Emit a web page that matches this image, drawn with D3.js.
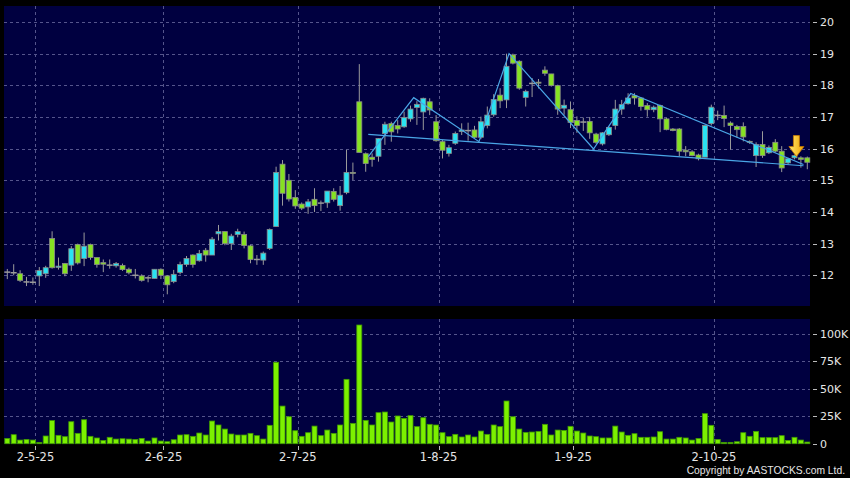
<!DOCTYPE html>
<html><head><meta charset="utf-8">
<script src="https://cdn.jsdelivr.net/npm/d3@7"></script>
<style>html,body{margin:0;padding:0;background:#000;}svg{display:block;}</style>
</head><body><svg id="c" width="850" height="478"></svg>
<script>
// ---- data ----
const opens  = [12.10,12.08,12.05,11.79,11.78,11.98,12.05,13.16,12.25,12.37,12.32,12.97,12.53,12.97,12.56,12.40,12.32,12.30,12.31,12.19,
 12.00,11.98,11.92,11.90,12.19,11.98,11.80,12.09,12.34,12.64,12.46,12.79,12.64,13.31,13.38,13.00,13.29,13.29,12.93,12.50,
 12.48,12.85,13.54,15.51,15.00,14.46,14.25,14.16,14.40,14.28,14.29,14.65,14.20,14.61,15.25,17.48,15.84,15.73,15.76,16.48,
 16.79,16.73,16.69,16.94,17.30,17.16,17.48,16.85,16.22,15.85,16.17,16.54,16.57,16.59,16.36,16.73,17.07,17.69,17.54,18.96,
 18.76,17.62,18.06,18.10,18.48,18.36,17.99,17.28,17.23,16.89,16.84,16.86,16.46,16.15,16.44,16.73,17.25,17.42,17.67,17.60,
 17.36,17.23,17.36,16.94,16.62,16.62,15.95,15.90,15.80,15.73,16.79,17.05,17.05,16.81,16.70,16.70,16.23,15.78,16.13,15.87,
 16.20,15.92,15.55,15.71,15.71,15.71];
const highs  = [12.20,12.35,12.16,11.95,11.93,12.26,12.30,13.39,12.56,12.39,12.92,13.00,13.35,13.00,12.56,12.50,12.50,12.42,12.37,12.24,
 12.20,12.03,11.98,12.19,12.22,12.01,12.17,12.43,12.61,12.66,12.80,12.86,13.21,13.59,13.38,13.31,13.47,13.38,12.96,12.64,
 12.75,13.48,15.43,15.64,15.20,14.69,14.30,14.41,14.75,14.36,14.66,14.75,14.82,15.96,15.56,18.67,15.88,15.85,16.33,16.85,
 16.85,16.90,17.17,17.36,17.50,17.61,17.59,17.06,16.27,16.12,16.54,16.80,16.82,16.72,17.01,17.33,17.72,17.91,19.00,19.00,
 18.79,17.86,18.23,18.20,18.60,18.36,18.02,17.55,17.49,17.02,16.98,17.00,16.50,16.52,16.70,17.54,17.54,17.75,17.75,17.63,
 17.44,17.36,17.39,16.97,16.65,16.65,16.08,15.95,15.84,16.73,17.39,17.20,17.36,16.86,16.75,16.83,16.26,16.20,16.55,16.10,
 16.30,16.08,15.71,15.81,15.76,15.75];
const lows   = [11.88,12.00,11.79,11.66,11.70,11.66,11.92,12.21,12.18,11.97,12.14,12.34,12.29,12.49,12.24,12.10,12.21,12.24,12.14,12.03,
 11.90,11.80,11.78,11.90,11.88,11.40,11.75,12.03,12.27,12.24,12.43,12.43,12.64,13.10,12.95,12.80,13.20,12.85,12.38,12.33,
 12.33,12.80,13.54,14.20,14.33,14.10,14.06,13.94,14.00,14.03,14.13,14.33,14.04,14.56,15.01,15.88,15.27,15.43,15.59,16.12,
 16.22,16.48,16.66,16.85,16.75,16.59,17.06,16.22,15.69,15.75,16.12,16.43,16.25,16.32,16.30,16.64,17.01,17.28,17.28,18.66,
 17.86,17.33,17.63,17.90,18.30,17.96,17.07,17.07,16.65,16.50,16.56,16.31,16.15,16.10,16.40,16.60,17.07,17.39,17.39,17.20,
 17.01,17.15,16.52,16.58,16.55,15.76,15.76,15.76,15.63,15.73,16.73,16.90,16.68,15.97,16.35,16.23,16.15,15.42,15.71,15.83,
 15.88,15.26,15.50,15.66,15.40,15.35];
const closes = [12.10,12.08,11.84,11.79,11.78,12.15,12.24,12.24,12.29,12.05,12.84,12.39,12.92,12.56,12.34,12.35,12.32,12.37,12.18,12.08,
 12.00,11.84,11.92,12.19,12.00,11.70,12.03,12.34,12.53,12.34,12.69,12.64,13.14,13.38,13.00,13.24,13.38,12.94,12.50,12.50,
 12.70,13.45,15.25,14.59,14.41,14.19,14.12,14.32,14.20,14.28,14.66,14.40,14.53,15.25,15.22,15.88,15.53,15.66,16.32,16.77,
 16.53,16.62,16.98,17.25,17.40,17.59,17.22,16.25,15.95,16.03,16.48,16.59,16.57,16.36,16.85,17.06,17.55,17.51,18.60,18.70,
 17.91,17.81,18.06,18.08,18.38,17.99,17.25,17.37,16.83,16.73,16.84,16.50,16.20,16.50,16.67,17.25,17.39,17.60,17.60,17.33,
 17.23,17.31,16.94,16.60,16.57,15.92,15.90,15.78,15.68,16.73,17.31,17.05,16.95,16.73,16.60,16.37,16.20,16.13,15.78,16.04,
 15.92,15.39,15.68,15.78,15.66,15.57];
const volumes = [4800,8200,3300,3900,3300,1200,7000,21000,7600,6400,20000,9400,21800,6700,5200,3000,5800,4200,4500,4200,
 3900,4800,2400,5200,2400,1800,3600,7900,8200,6700,9700,7900,20600,17000,13300,8800,7900,7900,9400,7300,
 4200,16700,74000,34200,24500,11800,6700,10000,16000,7300,12400,9400,17000,58500,18500,107900,21200,17000,28200,28800,
 19700,25200,23000,25500,15500,23600,17600,17000,10000,6400,8500,6100,7900,6100,11500,8500,17000,15500,38800,24500,
 13300,10300,10600,11200,17600,7900,12400,12100,15800,11500,9700,7000,6400,5200,5200,16000,10600,7600,9100,5800,
 5800,6100,10900,4200,4200,5800,5200,3300,4800,27300,16700,3900,1200,1200,1800,10000,6700,11200,5500,5500,
 5500,7300,3000,5800,3300,1500];
const tickIndex  = [4, 24, 45, 67, 88, 110];
const tickLabels = ["2-5-25","2-6-25","2-7-25","1-8-25","1-9-25","2-10-25"];
const priceTicks = [12,13,14,15,16,17,18,19,20];
const volTicks   = [0,25000,50000,75000,100000];
const volTickLabels = ["0","25K","50K","75K","100K"];
// drawn pattern lines (index, price)
const necklineIdx = [56.4, 124.4], necklinePrice = [16.45, 15.46];
const zigzagIdx   = [56.4, 63.5, 73.7, 78.4, 91.6, 97.4, 124.4];
const zigzagPrice = [15.75, 17.61, 16.22, 19.00, 15.99, 17.74, 15.50];
const arrowIdx = 123.3, arrowPrice = 15.75;

// ---- layout ----
const svg = d3.select("#c");
const P = {l:4, r:810, t:6, b:306};
const V = {l:4, r:810, t:319, b:444};
const x = d3.scaleLinear().domain([0,125]).range([7.3, 807.3]);
const y = d3.scaleLinear().domain([12,20]).range([275.3, 22]);
const yv = d3.scaleLinear().domain([0,100000]).range([443.7, 333.7]);
const gridCol = "#55558c", txtCol = "#e6e6e6";
const font = "DejaVu Sans, Verdana, sans-serif";

svg.append("rect").attr("width",850).attr("height",478).attr("fill","#000");
svg.append("rect").attr("x",P.l).attr("y",P.t).attr("width",P.r-P.l).attr("height",P.b-P.t).attr("fill","#000040");
svg.append("rect").attr("x",V.l).attr("y",V.t).attr("width",V.r-V.l).attr("height",V.b-V.t).attr("fill","#000040");

// grids
const gp = svg.append("g").attr("stroke",gridCol).attr("stroke-dasharray","3,3").attr("stroke-width",1);
priceTicks.forEach(p=>{ const yy=Math.round(y(p))+0.5;
  gp.append("line").attr("x1",P.l).attr("x2",P.r).attr("y1",yy).attr("y2",yy); });
volTicks.slice(1).forEach(v=>{ const yy=Math.round(yv(v))+0.5;
  gp.append("line").attr("x1",V.l).attr("x2",V.r).attr("y1",yy).attr("y2",yy); });
tickIndex.forEach(i=>{ const xx=Math.round(x(i+0.4))+0.5;
  gp.append("line").attr("x1",xx).attr("x2",xx).attr("y1",P.t).attr("y2",P.b);
  gp.append("line").attr("x1",xx).attr("x2",xx).attr("y1",V.t).attr("y2",V.b); });

// y axis labels
const ya = svg.append("g").attr("font-family",font).attr("font-size","11px").attr("fill",txtCol);
priceTicks.forEach(p=>{
  ya.append("line").attr("x1",813).attr("x2",817).attr("y1",Math.round(y(p))+0.5).attr("y2",Math.round(y(p))+0.5).attr("stroke","#bbb");
  ya.append("text").attr("x",820).attr("y",y(p)).attr("dy","0.36em").text(p);
});
volTicks.forEach((v,k)=>{
  ya.append("line").attr("x1",813).attr("x2",817).attr("y1",Math.round(yv(v))+0.5).attr("y2",Math.round(yv(v))+0.5).attr("stroke","#bbb");
  ya.append("text").attr("x",820).attr("y",yv(v)).attr("dy","0.36em").text(volTickLabels[k]);
});
// x axis
const xa = svg.append("g").attr("font-family",font).attr("font-size","11.5px").attr("fill",txtCol).attr("text-anchor","middle");
tickIndex.forEach((i,k)=>{ const xx=Math.round(x(i+0.4))+0.5;
  xa.append("line").attr("x1",xx).attr("x2",xx).attr("y1",446).attr("y2",450).attr("stroke","#bbb");
  xa.append("text").attr("x",x(i+0.4)).attr("y",461).text(tickLabels[k]);
});
svg.append("text").attr("x",845).attr("y",474).attr("text-anchor","end")
  .attr("font-family","Liberation Sans, Arial, sans-serif").attr("font-size","10.3px")
  .attr("fill",txtCol).text("Copyright by AASTOCKS.com Ltd.");

// volume bars
const bw = 5;
svg.append("g").selectAll("rect").data(volumes).join("rect")
  .attr("x",(d,i)=>x(i)-bw/2).attr("width",bw)
  .attr("y",d=>yv(d)).attr("height",d=>yv(0)-yv(d))
  .attr("fill","#7cf000").attr("stroke","#3f9a00").attr("stroke-width",0.8);

// candles
const up="#2ae2f2", dn="#86e222", wick="#9a9a9a";
const cg = svg.append("g");
opens.forEach((o,i)=>{
  const c=closes[i], xx=x(i);
  cg.append("line").attr("x1",xx).attr("x2",xx).attr("y1",y(highs[i])).attr("y2",y(lows[i])).attr("stroke",wick).attr("stroke-width",1);
  const top=y(Math.max(o,c)), bot=y(Math.min(o,c));
  if (Math.abs(c-o) < 0.005) {
    cg.append("line").attr("x1",xx-3).attr("x2",xx+3).attr("y1",top).attr("y2",top).attr("stroke",wick).attr("stroke-width",1.5);
  } else {
    cg.append("rect").attr("x",xx-2.5).attr("width",5).attr("y",top).attr("height",Math.max(1,bot-top))
      .attr("fill", c>o?up:dn).attr("stroke","#8a8a8a").attr("stroke-width",0.8);
  }
});

// pattern lines
const lineCol="#4aa6e6";
const lg = d3.line().x(d=>x(d[0])).y(d=>y(d[1]));
svg.append("path").attr("d",lg(necklineIdx.map((d,k)=>[d,necklinePrice[k]]))).attr("fill","none").attr("stroke",lineCol).attr("stroke-width",1.2);
svg.append("path").attr("d",lg(zigzagIdx.map((d,k)=>[d,zigzagPrice[k]]))).attr("fill","none").attr("stroke",lineCol).attr("stroke-width",1.2);

// arrow
const defs = svg.append("defs");
const gr = defs.append("linearGradient").attr("id","ag").attr("x1",0).attr("x2",1).attr("y1",0).attr("y2",0);
gr.append("stop").attr("offset","0").attr("stop-color","#ffe870");
gr.append("stop").attr("offset","1").attr("stop-color","#f2a400");
const ax=x(arrowIdx), ay=y(arrowPrice);
svg.append("path").attr("d",`M${ax-3},${ay-21} L${ax+3},${ay-21} L${ax+3},${ay-10} L${ax+7.5},${ay-10} L${ax},${ay} L${ax-7.5},${ay-10} L${ax-3},${ay-10} Z`)
  .attr("fill","url(#ag)").attr("stroke","#c87800").attr("stroke-width",0.8);
</script></body></html>
